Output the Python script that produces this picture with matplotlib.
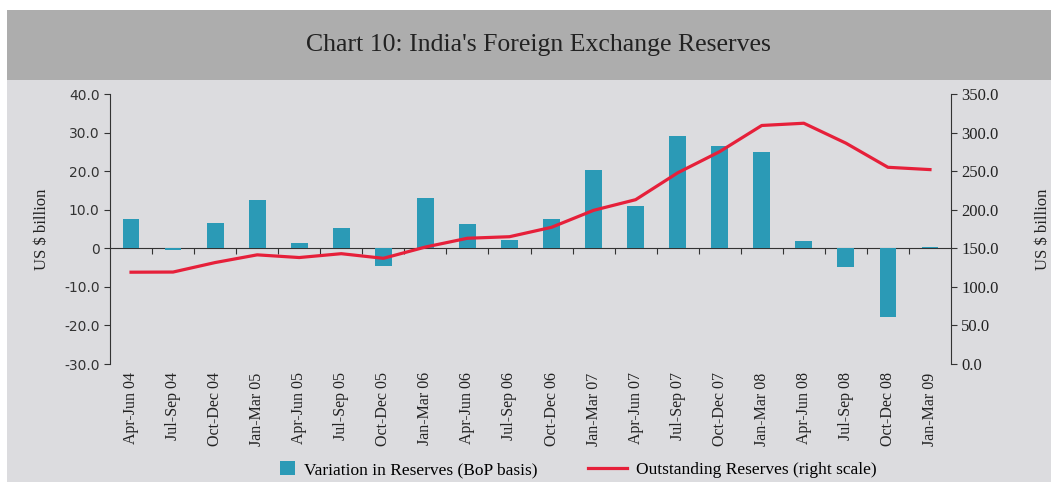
import matplotlib
matplotlib.use("Agg")
import matplotlib.pyplot as plt
import numpy as np
from matplotlib.patches import Rectangle
from matplotlib.legend_handler import HandlerPatch

quarters = ['Apr-Jun 04', 'Jul-Sep 04', 'Oct-Dec 04', 'Jan-Mar 05', 'Apr-Jun 05',
            'Jul-Sep 05', 'Oct-Dec 05', 'Jan-Mar 06', 'Apr-Jun 06', 'Jul-Sep 06',
            'Oct-Dec 06', 'Jan-Mar 07', 'Apr-Jun 07', 'Jul-Sep 07', 'Oct-Dec 07',
            'Jan-Mar 08', 'Apr-Jun 08', 'Jul-Sep 08', 'Oct-Dec 08', 'Jan-Mar 09']
# variation in reserves, BoP basis (left scale)
variation = [7.5, -0.5, 6.5, 12.6, 1.4, 5.3, -4.6, 13.1, 6.3, 2.2,
             7.5, 20.3, 11.0, 29.1, 26.5, 24.9, 2.0, -4.8, -17.9, 0.3]
# outstanding reserves (right scale)
outstanding = [119.0, 119.2, 131.5, 141.5, 138.0, 143.0, 137.0, 151.6, 163.0, 165.0,
               177.2, 199.2, 213.0, 247.8, 275.3, 309.2, 312.1, 286.3, 255.0, 252.0]

serif = 'Liberation Serif'
bar_color = '#2b9ab6'
line_color = '#e6203a'

fig = plt.figure(figsize=(10.51, 4.82), dpi=100)
# background panels
fig.patches.append(Rectangle((7/1051, 0), 1 - 7/1051, 1 - 80/482, transform=fig.transFigure,
                             facecolor='#dcdcdf', edgecolor='none', zorder=-2))
fig.patches.append(Rectangle((7/1051, 1 - 80/482), 1 - 7/1051, 70/482, transform=fig.transFigure,
                             facecolor='#adadad', edgecolor='none', zorder=-2))
fig.text(0.512, 1 - 45/482, "Chart 10: India's Foreign Exchange Reserves", ha='center', va='center',
         fontsize=18.5, family=serif, color='#222222')

ax = fig.add_axes([110/1051, 1 - 364/482, (951 - 110)/1051, 270/482])
ax.patch.set_visible(False)
x = np.arange(len(quarters))
ax.bar(x, variation, width=0.4, color=bar_color, zorder=2)
ax.set_xlim(-0.5, len(quarters) - 0.5)
ax.set_ylim(-30, 40)
ax.set_yticks(np.arange(-30, 41, 10))
ax.set_yticklabels(['0' if v == 0 else f'{v:.1f}' for v in np.arange(-30, 41, 10)],
                   fontsize=10, color='#333333')
ax.set_xticks(x)
ax.set_xticklabels(quarters, rotation=90, fontsize=11.5, family=serif, color='#222222')
ax.tick_params(axis='x', length=0, pad=6)
ax.tick_params(axis='y', direction='out', length=4, color='#333333')
for s in ['top', 'right', 'bottom']:
    ax.spines[s].set_visible(False)
ax.spines['left'].set_color('#333333')
ax.set_ylabel('US $ billion', fontsize=12, family=serif, color='#222222', labelpad=10)

# zero line with category separators
zero = ax.secondary_xaxis(30/70)
zero.set_xticks(np.arange(0.5, len(quarters) - 0.5, 1))
zero.tick_params(axis='x', direction='out', length=4, color='#333333', labelbottom=False)
zero.spines['bottom'].set_color('#333333')

ax2 = ax.twinx()
line, = ax2.plot(x, outstanding, color=line_color, lw=2.3)
ax2.set_ylim(0, 350)
ax2.set_yticks(np.arange(0, 351, 50))
ax2.set_yticklabels([f'{v:.1f}' for v in np.arange(0, 351, 50)], fontsize=12,
                    family=serif, color='#222222')
ax2.tick_params(axis='y', direction='out', length=4, color='#333333')
for s in ['top', 'left', 'bottom']:
    ax2.spines[s].set_visible(False)
ax2.spines['right'].set_color('#333333')
ax2.set_ylabel('US $ billion', fontsize=12, family=serif, color='#222222', rotation=90, labelpad=26)


def narrow_box(legend, orig_handle, xdescent, ydescent, width, height, fontsize):
    # small square pushed to the right end of the handle area
    w = width * 0.38
    return Rectangle((-xdescent + width - w, -ydescent - height * 0.1), w, height * 1.2)


box = Rectangle((0, 0), 1, 1, facecolor=bar_color, edgecolor='none')
fig.legend([box, line], ['Variation in Reserves (BoP basis)', 'Outstanding Reserves (right scale)'],
           loc='center', bbox_to_anchor=(0.539, 1 - 470/482), ncol=2,
           frameon=False, prop={'family': serif, 'size': 12.5}, columnspacing=2.9,
           handlelength=2.25, handletextpad=0.52, borderpad=0, borderaxespad=0,
           handler_map={Rectangle: HandlerPatch(patch_func=narrow_box)})

fig.savefig('out.png', dpi=100)
